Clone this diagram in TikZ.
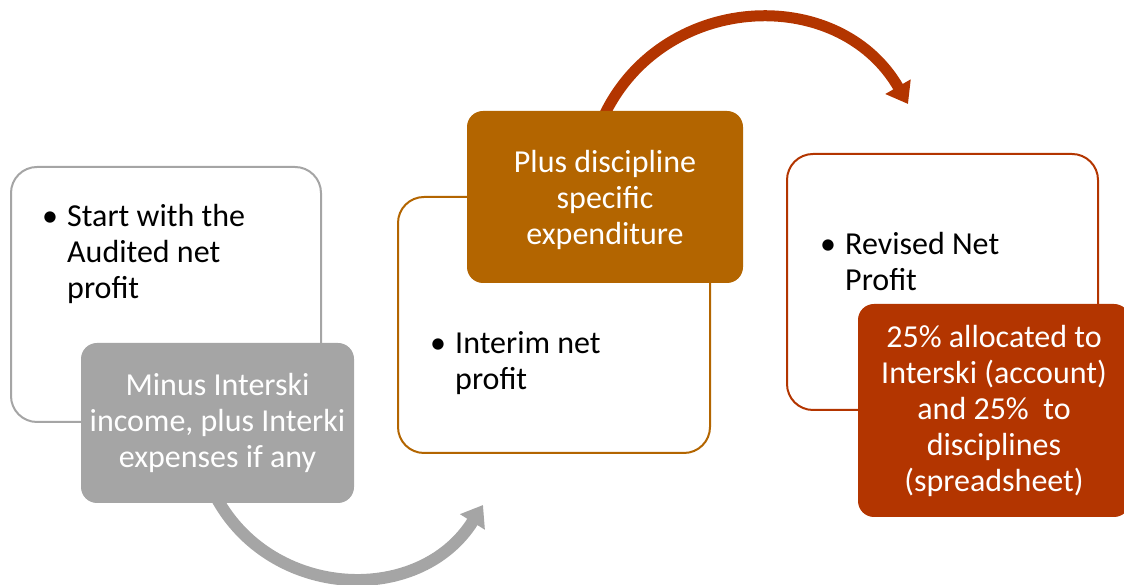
\documentclass[tikz,border=0pt]{standalone}
\usepackage{fontspec}
\setmainfont{Carlito}
\usetikzlibrary{arrows.meta}
\definecolor{stepgray}{HTML}{A5A5A5}
\definecolor{stepbrown}{HTML}{B36500}
\definecolor{steprust}{HTML}{B33500}
\newcommand{\boxfont}{\fontsize{32}{36}\selectfont}
\newenvironment{bullets}{\begin{tabular}{@{}p{25pt}@{}l@{}}\textbullet &}{\end{tabular}}

\begin{document}
\begin{tikzpicture}[x=1pt,y=1pt,
    framebox/.style={draw, line width=2pt, fill=white, rounded corners=26pt, inner sep=0pt},
    solidbox/.style={rounded corners=16pt, text=white, align=center, font=\boxfont, inner sep=0pt},
    bulletitem/.style={anchor=north west, inner sep=0pt, font=\boxfont},
    bendarrow/.style={line width=12pt, -{Triangle[length=20pt,width=28pt]}}]
  \useasboundingbox (0,0) rectangle (1124,585);
  % curved arrows go first, the boxes cover their tails
  \coordinate (g0) at (212,96);
  \coordinate (g1) at (483,80);
  \coordinate (r0) at (602,465);
  \coordinate (r1) at (908,481);
  \draw[bendarrow, stepgray] (g0) to[out=-65, in=238, looseness=1.15] (g1);
  \draw[bendarrow, steprust, line width=11pt] (r0) to[out=66, in=120, looseness=1.17] (r1);
  \node[framebox, draw=stepgray, minimum width=310pt, minimum height=255pt] (start) at (166,290.5) {};
  \node[framebox, draw=stepbrown, minimum width=312pt, minimum height=256pt] (interim) at (554,260) {};
  \node[framebox, draw=steprust, minimum width=311pt, minimum height=256pt] (revised) at (942.5,303) {};
  \node[bulletitem] (startitem) at (42,384) {\begin{bullets}Start with the\\ & Audited net\\ & profit\end{bullets}};
  \node[bulletitem] (interimitem) at (430,257) {\begin{bullets}Interim net\\ & profit\end{bullets}};
  \node[bulletitem] (reviseditem) at (820,356) {\begin{bullets}Revised Net\\ & Profit\end{bullets}};
  \node[solidbox, fill=stepgray, minimum width=273pt, minimum height=160pt] (minus) at (217.5,162) {Minus Interski\\income, plus Interki\\expenses if any};
  \node[solidbox, fill=stepbrown, minimum width=276pt, minimum height=172pt] (plus) at (605,388) {};
  \node[solidbox] (plustext) at (605,385) {Plus discipline\\specific\\expenditure};
  \node[solidbox, fill=steprust, minimum width=272pt, minimum height=213pt] (split) at (994,174.5) {25\% allocated to\\Interski (account)\\and 25\% \ to\\disciplines\\(spreadsheet)};
\end{tikzpicture}
\end{document}
